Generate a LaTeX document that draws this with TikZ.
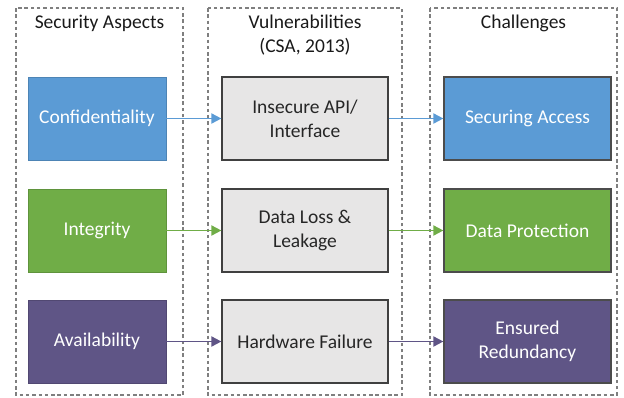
\documentclass[tikz,border=0pt]{standalone}
\usepackage{fontspec}
\setmainfont{Carlito}
\usetikzlibrary{arrows.meta}
\definecolor{cblue}{HTML}{5B9BD5}
\definecolor{cgreen}{HTML}{70AD47}
\definecolor{cpurple}{HTML}{5F5586}
\definecolor{cgray}{HTML}{E7E6E6}
\definecolor{frame}{HTML}{7F7F7F}
\tikzset{
  x=1pt, y=-1pt,
  column/.style={draw=frame, line width=2.8pt, dash pattern=on 3.5pt off 2.8pt},
  box/.style={minimum width=138pt, minimum height=83pt, inner sep=0pt, align=center, font=\fontsize{19.5}{24}\selectfont},
  aspect/.style={box, text=white, draw=#1!85!black, fill=#1, line width=0.6pt},
  vuln/.style={box, minimum width=166pt, fill=cgray, draw=black!75, line width=1.2pt, text=black!85},
  chal/.style={box, minimum width=167pt, text=white, fill=#1, draw=black!70, line width=1.2pt},
  head/.style={font=\fontsize{19.5}{24}\selectfont, align=center, text=black!90},
  link/.style={draw=#1, line width=1.8pt, -{Triangle[length=10pt,width=10pt]}}
}
\begin{document}
\begin{tikzpicture}
\useasboundingbox (0,0) rectangle (624,397);
% dashed columns
\draw[column] (16,8) rectangle (183,395);
\draw[column] (208,8) rectangle (402,395);
\draw[column] (430,8) rectangle (617,395);
% headings
\node[head] (h1) at (99.5,23) {Security Aspects};
\node[head] (h2) at (305,35) {Vulnerabilities\\(CSA, 2013)};
\node[head] (h3) at (523.5,23) {Challenges};
% security aspects
\node[aspect=cblue] (a1) at (97,118.5) {Confidentiality};
\node[aspect=cgreen] (a2) at (97,230.5) {Integrity};
\node[aspect=cpurple] (a3) at (97,341.5) {Availability};
% vulnerabilities
\node[vuln] (v1) at (305,118.5) {Insecure API/\\Interface};
\node[vuln] (v2) at (305,230.5) {Data Loss \&\\Leakage};
\node[vuln] (v3) at (305,341.5) {Hardware Failure};
% challenges
\node[chal=cblue] (c1) at (527.5,118.5) {Securing Access};
\node[chal=cgreen] (c2) at (527.5,230.5) {Data Protection};
\node[chal=cpurple] (c3) at (527.5,341.5) {Ensured\\Redundancy};
% connectors
\draw[link=cblue] (a1) -- (v1);
\draw[link=cblue] (v1) -- (c1);
\draw[link=cgreen] (a2) -- (v2);
\draw[link=cgreen] (v2) -- (c2);
\draw[link=cpurple] (a3) -- (v3);
\draw[link=cpurple] (v3) -- (c3);
\end{tikzpicture}
\end{document}
